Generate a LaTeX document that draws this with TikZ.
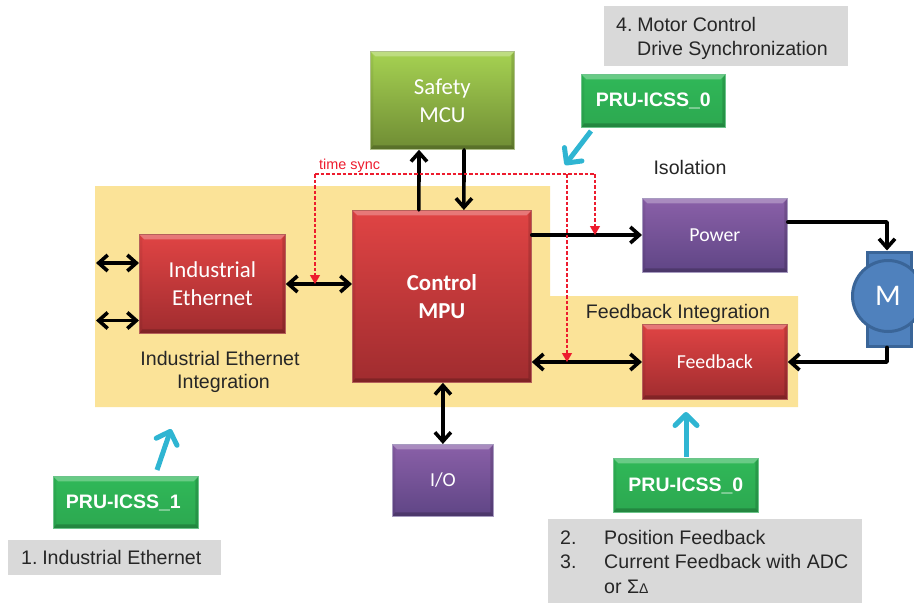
\documentclass[tikz,border=0pt]{standalone}
\usepackage{fontspec}
\setmainfont{Liberation Sans}
\newfontfamily\calib{Carlito}
\usetikzlibrary{arrows.meta,calc}
\definecolor{yel}{HTML}{FBE398}
\definecolor{greyb}{HTML}{D9D9D9}
\definecolor{labelc}{HTML}{262626}
\definecolor{teal}{HTML}{2FB5D2}
\definecolor{redl}{HTML}{ED1C2E}
\definecolor{mfill}{HTML}{4F81BD}
\definecolor{mdraw}{HTML}{3A6598}
\definecolor{redT}{HTML}{E04444}\definecolor{redB}{HTML}{A02C2F}\definecolor{redE}{HTML}{B5605A}
\definecolor{purT}{HTML}{8A60A8}\definecolor{purB}{HTML}{5F4585}\definecolor{purE}{HTML}{A79BC0}
\definecolor{grnT}{HTML}{A6D252}\definecolor{grnB}{HTML}{6F8C34}\definecolor{grnE}{HTML}{AEBF8A}
\definecolor{pruT}{HTML}{30B858}\definecolor{pruB}{HTML}{2CA850}\definecolor{pruE}{HTML}{6CC48A}
\tikzset{
 x=1pt,y=-1pt,
 bevel/.style n args={3}{draw=#3,line width=0.8pt,top color=#1,bottom color=#2,
   path picture={
     \path (path picture bounding box.north west) coordinate (bnw) (path picture bounding box.south east) coordinate (bse);
     \fill[white,opacity=.28] (bnw) -- (bnw-|bse) -- ([shift={(-5pt,-5pt)}]bnw-|bse) -- ([shift={(5pt,-5pt)}]bnw) -- cycle;
     \fill[black,opacity=.14] (bse) -- (bse|-bnw) -- ([shift={(-3pt,-4pt)}]bse|-bnw) -- ([shift={(-3pt,4pt)}]bse) -- cycle;
     \fill[black,opacity=.20] (bse) -- (bnw|-bse) -- ([shift={(3pt,4pt)}]bnw|-bse) -- ([shift={(-3pt,4pt)}]bse) -- cycle;
     \fill[black,opacity=.06] (bnw) -- (bnw|-bse) -- ([shift={(3pt,4pt)}]bnw|-bse) -- ([shift={(3pt,-5pt)}]bnw) -- cycle;
   }},
 boxtext/.style={text=white,align=center,font=\calib\fontsize{22.8}{28}\selectfont,inner sep=0pt},
 redbox/.style={bevel={redT}{redB}{redE},boxtext},
 purplebox/.style={bevel={purT}{purB}{purE},boxtext},
 greenbox/.style={bevel={grnT}{grnB}{grnE},boxtext},
 prubox/.style={bevel={pruT}{pruB}{pruE},boxtext,font=\bfseries\fontsize{19.5}{22}\selectfont},
 greyrect/.style={fill=greyb,draw=none,inner sep=0pt},
 lab/.style={text=labelc,font=\fontsize{19.6}{23}\selectfont,inner sep=0pt},
 arr/.style={line width=3.6pt,black,line cap=round,line join=round,-{Straight Barb[length=9pt,width=16pt,line width=3.6pt]}},
 dblarr/.style={line width=3.6pt,black,line cap=round,{Straight Barb[length=9pt,width=16pt,line width=3.6pt]}-{Straight Barb[length=9pt,width=16pt,line width=3.6pt]}},
 sync/.style={redl,line width=1.3pt,dash pattern=on 3.5pt off 2pt,-{Triangle[length=9pt,width=10pt,fill=redl]}},
 syncline/.style={redl,line width=1.3pt,dash pattern=on 3.5pt off 2pt},
 pointer/.style={teal,line width=5pt,-{Straight Barb[length=11pt,width=22pt,line width=5pt,round]}},
}
\newcommand{\bx}[7]{\node[#2,minimum width=#5pt-#3pt,minimum height=#6pt-#4pt,anchor=north west] (#1) at (#3,#4) {#7};}
\begin{document}
\begin{tikzpicture}
\useasboundingbox (0,0) rectangle (914,605);
\clip (0,0) rectangle (914,605);
% yellow integration regions
\fill[yel] (95,186) -- (550,186) -- (550,296) -- (798,296) -- (798,407) -- (95,407) -- cycle;
% grey notes
\node[greyrect,minimum width=244pt,minimum height=60pt,anchor=north west] (note4) at (604,6) {};
\node[greyrect,minimum width=314pt,minimum height=84pt,anchor=north west] (note23) at (548,519) {};
\node[greyrect,minimum width=213pt,minimum height=35pt,anchor=north west] (note1) at (8,540) {};
\node[lab,anchor=base west] (t4a) at (616,31) {4.\hspace{-2.5pt} Motor Control};
\node[lab,anchor=base west] (t4b) at (637,55) {Drive Synchronization};
\node[lab,anchor=base west] (t2n) at (560,544) {2.};
\node[lab,anchor=base west] (t2) at (604,544) {Position Feedback};
\node[lab,anchor=base west] (t3n) at (560,568) {3.};
\node[lab,anchor=base west] (t3) at (604,568) {Current Feedback with ADC};
\node[lab,anchor=base west] (t3b) at (604,593) {or Σ{\fontsize{14}{14}\selectfont Δ}};
\node[lab,anchor=base west] (t1) at (21,564) {1.\hspace{-2.5pt} Industrial Ethernet};
% boxes
\bx{safety}{greenbox}{370}{51}{514}{149}{Safety\\MCU}
\bx{mpu}{redbox,font=\calib\bfseries\fontsize{22.8}{28}\selectfont}{352}{210}{531}{382}{Control\\MPU}
\bx{ie}{redbox}{139}{234}{285}{333}{Industrial\\Ethernet}
\bx{power}{purplebox,font=\calib\fontsize{19.8}{22}\selectfont}{642}{198}{787}{272}{Power}
\bx{fb}{redbox,font=\calib\fontsize{19.8}{22}\selectfont}{642}{324}{787}{399}{Feedback}
\bx{io}{purplebox,font=\calib\fontsize{19.8}{22}\selectfont}{392}{444}{493}{516}{I/O}
\bx{pruT}{prubox}{581}{74}{725}{127}{PRU-ICSS\_0}
\bx{pruR}{prubox}{613}{458}{758}{512}{PRU-ICSS\_0}
\bx{pruL}{prubox}{53}{476}{198}{528}{PRU-ICSS\_1\hspace*{5pt}}
% motor
\node[fill=mfill,draw=mdraw,line width=3pt,minimum width=44pt,minimum height=94pt,inner sep=0pt,anchor=north west] (mbody) at (865.5,250.5) {};
\node[circle,fill=mfill,draw=mdraw,line width=3pt,minimum size=71pt,inner sep=0pt,text=white,font=\calib\fontsize{30}{30}\selectfont] (motor) at (888,296) {M};
% labels
\node[lab] (liso) at (690,167) {Isolation};
\node[lab,anchor=base] (lfi) at (678,318) {Feedback Integration};
\node[lab,align=center,font=\fontsize{19.6}{23}\selectfont] (lie) at (220,372) {Industrial Ethernet\\\hspace*{7pt}Integration};
% black connectors
\coordinate (p1) at (96,263);
\coordinate (p2) at (96,320.5);
\draw[dblarr] (p1) -- (p1-|ie.west);
\draw[dblarr] (p2) -- (p2-|ie.west);
\coordinate (c1) at (0,284);
\draw[dblarr] (c1-|ie.east) -- (c1-|mpu.west);
\draw[arr] ([xshift=-23pt]mpu.north) -- ([xshift=-23.4pt]safety.south);
\draw[arr] ([xshift=21.6pt]safety.south) -- ([xshift=22pt]mpu.north);
\coordinate (c2) at (0,235);
\draw[arr] (c2-|mpu.east) -- (c2-|power.west);
\coordinate (c3) at (0,362);
\draw[dblarr] (c3-|mpu.east) -- (c3-|fb.west);
\coordinate (c4) at (887,222);
\draw[arr] (c4-|power.east) -- (c4) -- (c4|-mbody.north);
\coordinate (c5) at (887,362);
\draw[arr] (c5|-mbody.south) -- (c5) -- (c5-|fb.east);
\draw[dblarr] (mpu.south-|io.north) -- (io.north);
% time sync
\coordinate (s1) at (315,174);
\coordinate (s2) at (595,174);
\coordinate (s3) at (567,174);
\coordinate (e1) at (315,284);
\coordinate (e2) at (595,235);
\coordinate (e3) at (567,362);
\draw[syncline] (s1) -- (s2);
\draw[sync] (s1) -- (e1);
\draw[sync] (s2) -- (e2);
\draw[sync] (s3) -- (e3);
\node[anchor=base west,inner sep=0pt,text=redl,font=\fontsize{14.4}{16}\selectfont] (ts) at (319,169) {time sync};
% pointers
\coordinate (a1) at (591,131);
\coordinate (a2) at (565,165);
\coordinate (a3) at (686,457);
\coordinate (a4) at (686,412);
\coordinate (a5) at (157,470);
\coordinate (a6) at (171,429);
\draw[pointer] (a1) -- (a2);
\draw[pointer] (a3) -- (a4);
\draw[pointer] (a5) -- (a6);
\end{tikzpicture}
\end{document}
